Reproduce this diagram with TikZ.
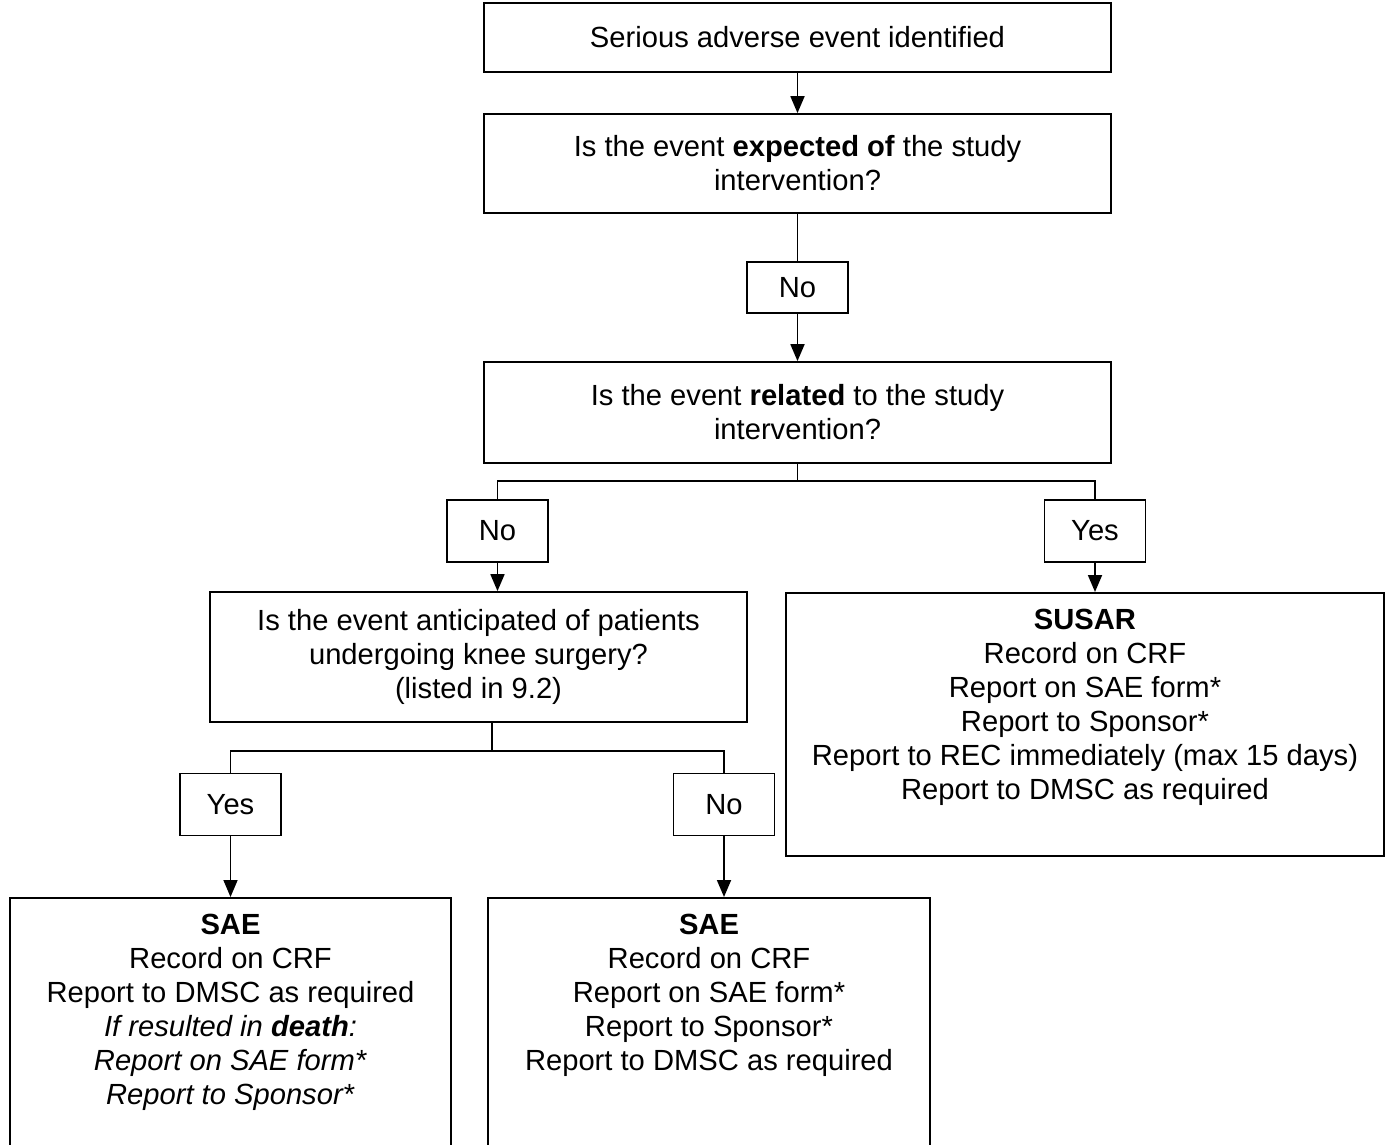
\documentclass[tikz,border=0pt]{standalone}
\usepackage{fontspec}
\setmainfont{Liberation Sans}
\usetikzlibrary{arrows.meta}
\begin{document}
\begin{tikzpicture}[x=0.02cm, y=-0.02cm, line width=1pt,
        every node/.style={font=\fontsize{16.6}{19.4}\selectfont},
        box/.style={draw, align=center, inner sep=0pt},
        ans/.style={draw, inner sep=0pt, minimum width=2.02cm, minimum height=1.24cm},
        outcome/.style={draw, anchor=north, inner xsep=0pt, inner ysep=0.32cm},
        arr/.style={-{Triangle[length=0.34cm, width=0.28cm]}}]
        \useasboundingbox (0,0) rectangle (1389,1145);

        \node[box, minimum width=12.54cm, minimum height=1.38cm] (found) at (797.5,37.5) {Serious adverse event identified};
        \node[box, minimum width=12.54cm, minimum height=1.98cm] (expected) at (797.5,163.5) {Is the event \textbf{expected of} the study\\intervention?};
        \node[ans, minimum height=1.02cm] (no1) at (797.5,287.5) {No};
        \node[box, minimum width=12.54cm, minimum height=2.02cm] (related) at (797.5,412.5) {Is the event \textbf{related} to the study\\intervention?};
        \coordinate (split1) at (797.5,481);
        \node[ans] (no2) at (497.5,531) {No};
        \node[ans] (yes2) at (1095,531) {Yes};
        \node[box, minimum width=10.74cm, minimum height=2.6cm] (anticipated) at (478.5,657) {Is the event anticipated of patients\\undergoing knee surgery?\\(listed in 9.2)};
        \node[outcome] (susar) at (1085,592) {\parbox[t][4.62cm][t]{11.96cm}{\centering\textbf{SUSAR}\\Record on CRF\\Report on SAE form*\\Report to Sponsor*\\Report to REC immediately (max 15 days)\\Report to DMSC as required}};
        \coordinate (split2) at (492,751);
        \node[ans] (yes3) at (230.5,804.5) {Yes};
        \node[ans] (no3) at (724,804.5) {No};
        \node[outcome] (sae1) at (230.5,897) {\parbox[t][4.72cm][t]{8.82cm}{\centering\textbf{SAE}\\Record on CRF\\Report to DMSC as required\\\textit{If resulted in \textbf{death}:}\\\textit{Report on SAE form*}\\\textit{Report to Sponsor*}}};
        \node[outcome] (sae2) at (709,897) {\parbox[t][4.72cm][t]{8.84cm}{\centering\textbf{SAE}\\Record on CRF\\Report on SAE form*\\Report to Sponsor*\\Report to DMSC as required}};

        \draw[arr] (found) -- (expected);
        \draw (expected) -- (no1);
        \draw[arr] (no1) -- (related);
        \draw (related) -- (split1);
        \draw (split1) -| (no2.north);
        \draw (split1) -| (yes2.north);
        \draw[arr] (no2) -- (no2 |- anticipated.north);
        \draw[arr] (yes2) -- (yes2 |- susar.north);
        \draw (anticipated.south -| split2) -- (split2);
        \draw (split2) -| (yes3.north);
        \draw (split2) -| (no3.north);
        \draw[arr] (yes3) -- (sae1);
        \draw[arr] (no3) -- (no3 |- sae2.north);
\end{tikzpicture}
\end{document}
